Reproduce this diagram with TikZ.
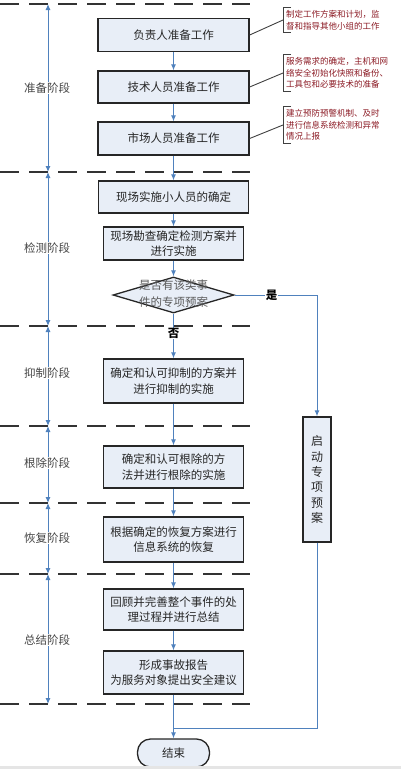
\documentclass[tikz,border=0pt]{standalone}
\usepackage{fontspec}
\newfontfamily\cjk{Noto Sans CJK SC}
\usetikzlibrary{arrows.meta,positioning,shapes.geometric,calc}
\definecolor{flowblue}{RGB}{79,129,189}
\definecolor{boxfill}{RGB}{232,238,247}
\definecolor{notered}{RGB}{139,26,36}
\definecolor{phasegray}{RGB}{70,70,70}

\begin{document}
\begin{tikzpicture}[x=1pt,y=-1pt,
  stagebox/.style={draw=black!85,line width=1.3pt,fill=boxfill,align=center,inner sep=1pt,
    font=\cjk\fontsize{11.5}{15.5}\selectfont,text=black!85},
  widebox/.style={stagebox,minimum width=151pt,minimum height=33pt},
  narrowbox/.style={stagebox,minimum width=140pt},
  decision/.style={diamond,draw=black!85,line width=1.3pt,fill=boxfill,
    minimum width=121pt,minimum height=36pt,inner sep=0pt},
  decisiontext/.style={align=center,font=\cjk\fontsize{11.5}{17}\selectfont,text=black!65},
  endbox/.style={draw=black!85,line width=1.3pt,fill=boxfill,rounded corners=13pt,
    minimum width=72pt,minimum height=28pt,font=\cjk\fontsize{11.5}{14}\selectfont,text=black!85},
  flowline/.style={flowblue,line width=1pt},
  flowarrow/.style={flowline,-{Latex[length=6pt,width=5pt]}},
  yesno/.style={fill=white,inner sep=0.5pt,font=\cjk\bfseries\fontsize{11.5}{14}\selectfont,text=black},
  phaseline/.style={black!80,line width=1.5pt,dash pattern=on 19pt off 10pt},
  phasespan/.style={flowline,{Latex[length=6pt,width=5pt]}-{Latex[length=6pt,width=5pt]}},
  phaselabel/.style={fill=white,inner sep=1pt,font=\cjk\fontsize{11.5}{14}\selectfont,text=phasegray},
  notetext/.style={align=left,inner xsep=3pt,inner ysep=3pt,text=notered,
    font=\cjk\fontsize{8.5}{11.5}\selectfont},
  notebracket/.style={black!75,line width=0.9pt},
  noteline/.style={black!75,line width=0.9pt}
]
  \useasboundingbox (0,0) rectangle (401,769);
  % phase separators
  \foreach \y in {4,172,326,426,503,574,704}
    \draw[phaseline] (0,\y) -- (250,\y);
  % phase spans
  \foreach \ya/\yb/\yl/\phase [count=\i] in {4/172/88/准备阶段,172/326/248/检测阶段,
      326/426/373/抑制阶段,426/503/463/根除阶段,503/574/538/恢复阶段,574/704/640/总结阶段}{
    \draw[phasespan] (48,\ya) -- (48,\yb);
    \node[phaselabel] (phase\i) at (47,\yl) {\phase};
  }
  % preparation
  \node[widebox] (box1) at (173.5,35) {负责人准备工作};
  \node[widebox,minimum height=32pt] (box2) at (173.5,87) {技术人员准备工作};
  \node[widebox] (box3) at (173.5,138.5) {市场人员准备工作};
  % notes
  \node[notetext,anchor=west] (note1) at (283,20) {制定工作方案和计划，监\\督和指导其他小组的工作};
  \node[notetext,anchor=west] (note2) at (283,73) {服务需求的确定，主机和网\\络安全初始化快照和备份、\\工具包和必要技术的准备};
  \node[notetext,anchor=west] (note3) at (283,125) {建立预防预警机制、及时\\进行信息系统检测和异常\\情况上报};
  \foreach \i in {1,2,3}{
    \draw[notebracket] ([xshift=8pt]note\i.north west) -- (note\i.north west)
      -- (note\i.south west) -- ([xshift=8pt]note\i.south west);
    \draw[noteline] (box\i.east) -- (note\i.west);
  }
  % detection
  \node[widebox,minimum width=150pt,minimum height=32pt] (box4) at (173.5,197) {现场实施小人员的确定};
  \node[narrowbox,minimum height=33pt] (box5) at (173.5,243.5) {现场勘查确定检测方案并\\进行实施};
  \node[decision] (check) at (173.5,295) {};
  \node[decisiontext] (checktext) at (173.5,294) {是否有该类事\\件的专项预案};
  % suppression, eradication, recovery, summary
  \node[narrowbox,minimum height=44pt] (box6) at (173.5,381) {确定和认可抑制的方案并\\进行抑制的实施};
  \node[narrowbox,minimum height=42pt] (box7) at (173.5,467) {确定和认可根除的方\\法并进行根除的实施};
  \node[narrowbox,minimum height=45pt] (box8) at (173.5,539.5) {根据确定的恢复方案进行\\信息系统的恢复};
  \node[narrowbox,minimum height=41pt] (box9) at (173.5,609.5) {回顾并完善整个事件的处\\理过程并进行总结};
  \node[narrowbox,minimum height=43pt] (box10) at (173.5,672.5) {形成事故报告\\为服务对象提出安全建议};
  % special plan
  \node[stagebox,minimum width=28pt,minimum height=125pt,font=\cjk\fontsize{12}{15.3}\selectfont]
    (plan) at (317,479.5) {启\\动\\专\\项\\预\\案};
  \node[endbox] (finish) at (173.5,753) {结束};
  % connectors
  \foreach \a/\b in {box1/box2,box2/box3,box3/box4,box4/box5,box5/check,
      box6/box7,box7/box8,box8/box9,box9/box10}
    \draw[flowarrow] (\a) -- (\b);
  \draw[flowarrow] (check.south) -- node[yesno,pos=0.44] {否} (box6.north);
  \draw[flowarrow] (check.east) -- node[yesno,pos=0.45] {是} (check.east -| plan.north) -- (plan.north);
  \coordinate (merge) at (173.5,728);
  \draw[flowline] (plan.south) |- (merge);
  \draw[flowarrow] (box10.south) -- (finish.north);
  % bottom strip
  \fill[black!10] (0,766) rectangle (401,769);
\end{tikzpicture}
\end{document}
